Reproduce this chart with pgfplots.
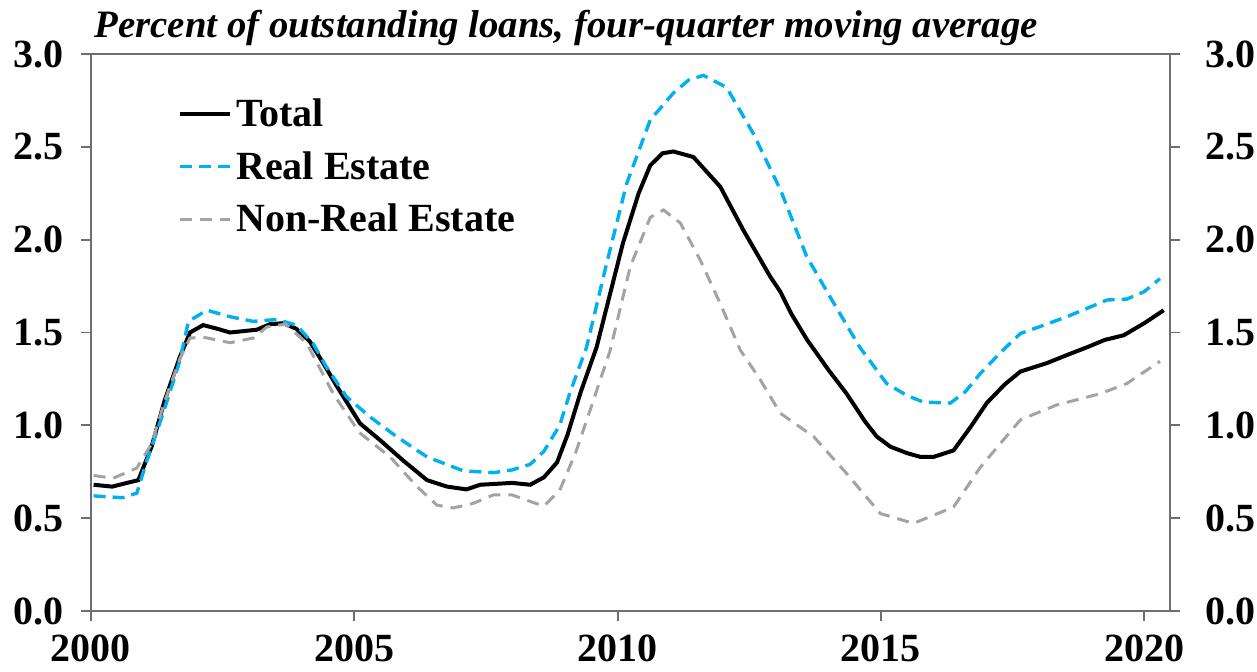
\documentclass[border=0pt]{standalone}
\usepackage{fontspec}
\setmainfont{Liberation Serif}
\usepackage{pgfplots}
\usepackage{pgfplotstable}
\pgfplotsset{compat=1.18}
\definecolor{reblue}{RGB}{0,176,240}
\definecolor{nregray}{RGB}{163,163,163}
\definecolor{axgray}{RGB}{110,110,110}

\pgfplotstableread{
year val
2000.05 0.68
2000.40 0.67
2000.90 0.705
2001.15 0.885
2001.40 1.135
2001.69 1.37
2001.88 1.50
2002.13 1.54
2002.40 1.52
2002.64 1.50
2003.15 1.515
2003.40 1.545
2003.65 1.55
2003.90 1.52
2004.16 1.45
2004.41 1.335
2004.67 1.21
2005.11 1.01
2005.49 0.92
2005.93 0.81
2006.38 0.705
2006.76 0.67
2007.13 0.655
2007.39 0.68
2008.00 0.69
2008.34 0.68
2008.60 0.72
2008.85 0.80
2009.05 0.95
2009.30 1.18
2009.60 1.42
2010.10 1.98
2010.40 2.25
2010.62 2.40
2010.85 2.465
2011.06 2.475
2011.44 2.445
2011.95 2.285
2012.39 2.05
2012.90 1.80
2013.09 1.72
2013.30 1.60
2013.60 1.46
2014.00 1.30
2014.35 1.17
2014.70 1.02
2014.92 0.94
2015.18 0.885
2015.50 0.85
2015.75 0.83
2016.00 0.83
2016.38 0.865
2016.70 0.99
2017.01 1.12
2017.35 1.22
2017.65 1.29
2018.15 1.335
2018.50 1.375
2018.91 1.42
2019.25 1.46
2019.61 1.485
2020.00 1.55
2020.37 1.62
}\total

\pgfplotstableread{
year val
2000.05 0.62
2000.60 0.61
2000.87 0.635
2001.06 0.81
2001.37 1.065
2001.69 1.35
2001.85 1.56
2002.20 1.62
2002.64 1.585
2003.08 1.56
2003.53 1.57
2003.90 1.54
2004.22 1.44
2004.47 1.315
2004.85 1.155
2005.30 1.045
2005.80 0.94
2006.38 0.83
2007.07 0.755
2007.64 0.745
2008.00 0.76
2008.34 0.79
2008.60 0.86
2008.90 1.00
2009.10 1.18
2009.41 1.42
2009.79 1.87
2010.17 2.30
2010.62 2.645
2011.06 2.79
2011.35 2.86
2011.63 2.885
2012.07 2.82
2012.58 2.57
2013.09 2.27
2013.59 1.91
2014.10 1.66
2014.60 1.42
2015.11 1.225
2015.50 1.16
2015.81 1.125
2016.32 1.12
2016.60 1.18
2016.89 1.28
2017.30 1.40
2017.65 1.495
2018.10 1.54
2018.53 1.585
2019.00 1.64
2019.29 1.675
2019.67 1.68
2020.00 1.72
2020.30 1.79
}\realestate

\pgfplotstableread{
year val
2000.05 0.73
2000.42 0.715
2000.87 0.77
2001.15 0.90
2001.40 1.13
2001.69 1.36
2001.88 1.47
2002.13 1.475
2002.64 1.445
2003.08 1.47
2003.34 1.53
2003.70 1.545
2004.10 1.44
2004.60 1.17
2005.10 0.96
2005.68 0.83
2006.19 0.67
2006.57 0.57
2006.88 0.555
2007.26 0.58
2007.64 0.625
2008.00 0.625
2008.34 0.59
2008.60 0.565
2008.90 0.65
2009.20 0.85
2009.50 1.10
2009.86 1.405
2010.24 1.855
2010.62 2.12
2010.87 2.16
2011.19 2.09
2011.57 1.89
2011.95 1.655
2012.33 1.405
2012.70 1.25
2013.09 1.065
2013.72 0.94
2014.35 0.74
2014.99 0.525
2015.62 0.472
2016.38 0.56
2016.89 0.775
2017.65 1.03
2018.34 1.11
2019.16 1.17
2019.67 1.225
2020.30 1.345
}\nonrealestate

\pgfplotsset{
  common/.style={
    scale only axis, width=539.5pt, height=278.5pt,
    xmin=2000, xmax=2020.49, ymin=0, ymax=3,
    axis line style={axgray, line width=1pt},
    tick align=outside, major tick length=5pt,
    tick style={axgray, line width=0.9pt},
    ytick={0,0.5,1,1.5,2,2.5,3},
    yticklabel style={/pgf/number format/fixed, /pgf/number format/fixed zerofill, /pgf/number format/precision=1},
    ticklabel style={font=\fontsize{20}{24}\selectfont\bfseries},
    /pgf/number format/assume math mode=true,
  }
}

\begin{document}
\begin{tikzpicture}
\useasboundingbox (-45.5pt,-30pt) rectangle (583pt,305.5pt);
\begin{axis}[common,
  xtick={2000,2005,2010,2015,2020},
  xticklabels={2000,2005,2010,2015,2020},
  xtick pos=bottom, ytick pos=left,
  xticklabel style={yshift=-3.5pt},
  yticklabel style={xshift=-5pt},
  clip mode=individual,
  legend style={draw=none, fill=none, at={(0.075,0.935)}, anchor=north west,
    font=\fontsize{20}{24}\selectfont\bfseries, row sep=7pt,
    /tikz/every even column/.append style={column sep=2pt}},
  legend cell align=left,
  legend image code/.code={\draw[#1] (0pt,0pt) -- (25pt,0pt);},
]
\addplot[black, line width=2pt] table[x=year,y=val] {\total};
\addlegendentry{Total}
\addplot[reblue, line width=1.7pt, dash pattern=on 6pt off 3.5pt] table[x=year,y=val] {\realestate};
\addlegendentry{Real Estate}
\addplot[nregray, line width=1.5pt, dash pattern=on 6pt off 4pt] table[x=year,y=val] {\nonrealestate};
\addlegendentry{Non-Real Estate}
\node[anchor=south west, inner sep=0pt, font=\fontsize{19.4}{23}\selectfont\bfseries\itshape]
  at (rel axis cs:0.003,1.014) {Percent of outstanding loans, four-quarter moving average};
\end{axis}
\begin{axis}[common,
  axis x line=none,
  ytick pos=right, yticklabel pos=right,
  yticklabel style={xshift=9pt},
]
\addplot[draw=none] coordinates {(2000,0)};
\end{axis}
\end{tikzpicture}
\end{document}
